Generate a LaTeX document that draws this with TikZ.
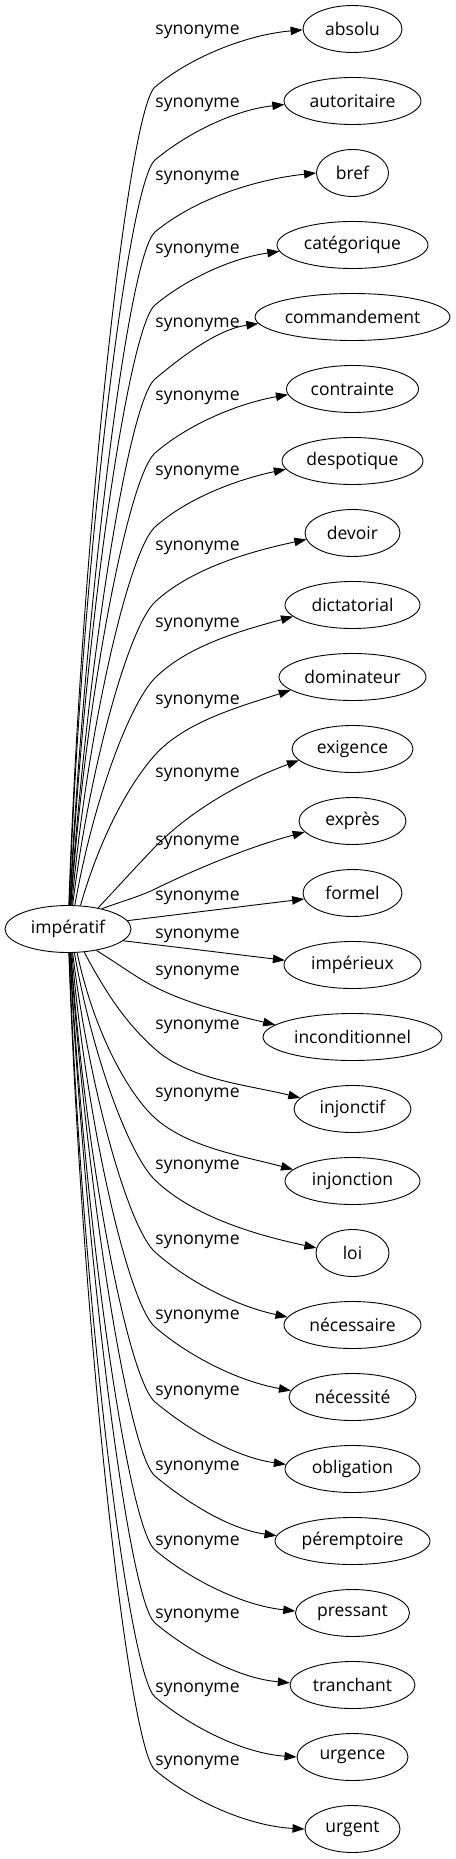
\documentclass[tikz,border=0pt]{standalone}
\usepackage{fontspec}
\setmainfont{Open Sans}
\usetikzlibrary{arrows.meta,shapes.geometric}
\tikzset{
  syn/.style={ellipse, draw, line width=0.9pt, minimum height=47pt, inner sep=0pt, font=\fontsize{17.5}{20}\selectfont},
  lab/.style={inner sep=0pt, font=\fontsize{17.5}{20}\selectfont},
  conn/.style={line width=0.9pt, -{Triangle[length=12pt,width=8.5pt]}},
}
\begin{document}
\begin{tikzpicture}[x=1pt,y=-1pt]
\useasboundingbox (0,0) rectangle (455,1859);
\node[syn, minimum width=126pt] (imp) at (68,929) {impératif};
% straight ones
\node[syn, minimum width=99pt] (formel) at (352.5,893) {formel};
\node[lab] (lformel) at (197.5,898) {synonyme};
\draw[conn] (imp.8) -- (formel.187);
\node[syn, minimum width=137pt] (imperieux) at (352.5,965) {impérieux};
\node[lab] (limperieux) at (197.5,936) {synonyme};
\draw[conn] (imp.-12) -- (imperieux.176);
% i/name/text/width/label y/B offset/start anchor/start dir/B dir/end dir/end anchor
\foreach \i/\nm/\txt/\w/\L/\d/\sa/\al/\th/\ph/\ea in {
0/absolu/absolu/99/32/58/88/88/40/5/181,
1/autoritaire/autoritaire/137/105/59/87/88/40/6/183,
2/bref/bref/72/178/59/86/87/40/6/180,
3/categorique/catégorique/151/251/60/85/87/40/8/185,
4/commandement/commandement/195/325/62/84/86/40/8/184,
5/contrainte/contrainte/132/398/64/83/86/41/10/185,
6/despotique/despotique/141/473/66/81/85/42/12/187,
7/devoir/devoir/95/548/69/79/83/43/12/188,
8/dictatorial/dictatorial/135/625/73/74/80/45/15/191,
9/dominateur/dominateur/147/702/78/62/74/48/18/192,
10/exigence/exigence/121/775/98/35/47/46/20/192,
11/expres/exprès/107/843/68/31/20/26/15/193,
14/inconditionnel/inconditionnel/179/973/-50/-37/-32/-27/-13/171,
15/injonctif/injonctif/117/1027/-60/-55/-62/-42/-14/168,
16/injonction/injonction/135/1095/-63/-69/-78/-42/-15/169,
17/loi/loi/73/1167/-73/-75/-80/-44/-12/172,
18/necessaire/nécessaire/137/1242/-73/-79/-83/-42/-12/173,
19/necessite/nécessité/127/1317/-70/-81/-85/-41/-10/174,
20/obligation/obligation/135/1393/-67/-83/-86/-40/-8/176,
21/peremptoire/péremptoire/155/1468/-65/-84/-86/-40/-8/176,
22/pressant/pressant/114/1543/-63/-85/-87/-40/-6/178,
23/tranchant/tranchant/125/1616/-62/-86/-87/-40/-5/178,
24/urgence/urgence/111/1690/-60/-87/-88/-40/-4/180,
25/urgent/urgent/95/1763/-59/-88/-88/-40/-3/180}{
  \pgfmathsetmacro{\yt}{29+72*\i}
  \node[syn, minimum width=\w pt] (\nm) at (352.5,\yt) {\txt};
  \node[lab] (l\nm) at (197.5,\L) {synonyme};
  \pgfmathsetmacro{\yb}{\yt+\d}
  \pgfmathsetmacro{\rs}{63*23.5/veclen(23.5*cos(\sa),63*sin(\sa))}
  \pgfmathsetmacro{\sx}{68+\rs*cos(\sa)}
  \pgfmathsetmacro{\sy}{929-\rs*sin(\sa)}
  \pgfmathsetmacro{\dA}{veclen(155-\sx,\yb-\sy)}
  \pgfmathsetmacro{\lA}{0.45*\dA}
  \pgfmathsetmacro{\cA}{min(35,0.3*\dA)}
  \pgfmathsetmacro{\rx}{\w/2}
  \pgfmathsetmacro{\rt}{\rx*23.5/veclen(23.5*cos(\ea),\rx*sin(\ea))}
  \pgfmathsetmacro{\tx}{352.5+\rt*cos(\ea)}
  \pgfmathsetmacro{\ty}{\yt-\rt*sin(\ea)}
  \pgfmathsetmacro{\dB}{veclen(\tx-155,\ty-\yb)}
  \pgfmathsetmacro{\eB}{0.3*\dB}
  \pgfmathsetmacro{\fB}{0.35*\dB}
  \coordinate (b\nm) at (155,\yb);
  \draw[conn] (imp.\sa) .. controls +({\lA*cos(\al)},{-\lA*sin(\al)}) and +({-\cA*cos(\th)},{\cA*sin(\th)}) .. (b\nm)
     .. controls +({\eB*cos(\th)},{-\eB*sin(\th)}) and +({-\fB*cos(\ph)},{\fB*sin(\ph)}) .. (\nm.\ea);
}
\end{tikzpicture}
\end{document}
